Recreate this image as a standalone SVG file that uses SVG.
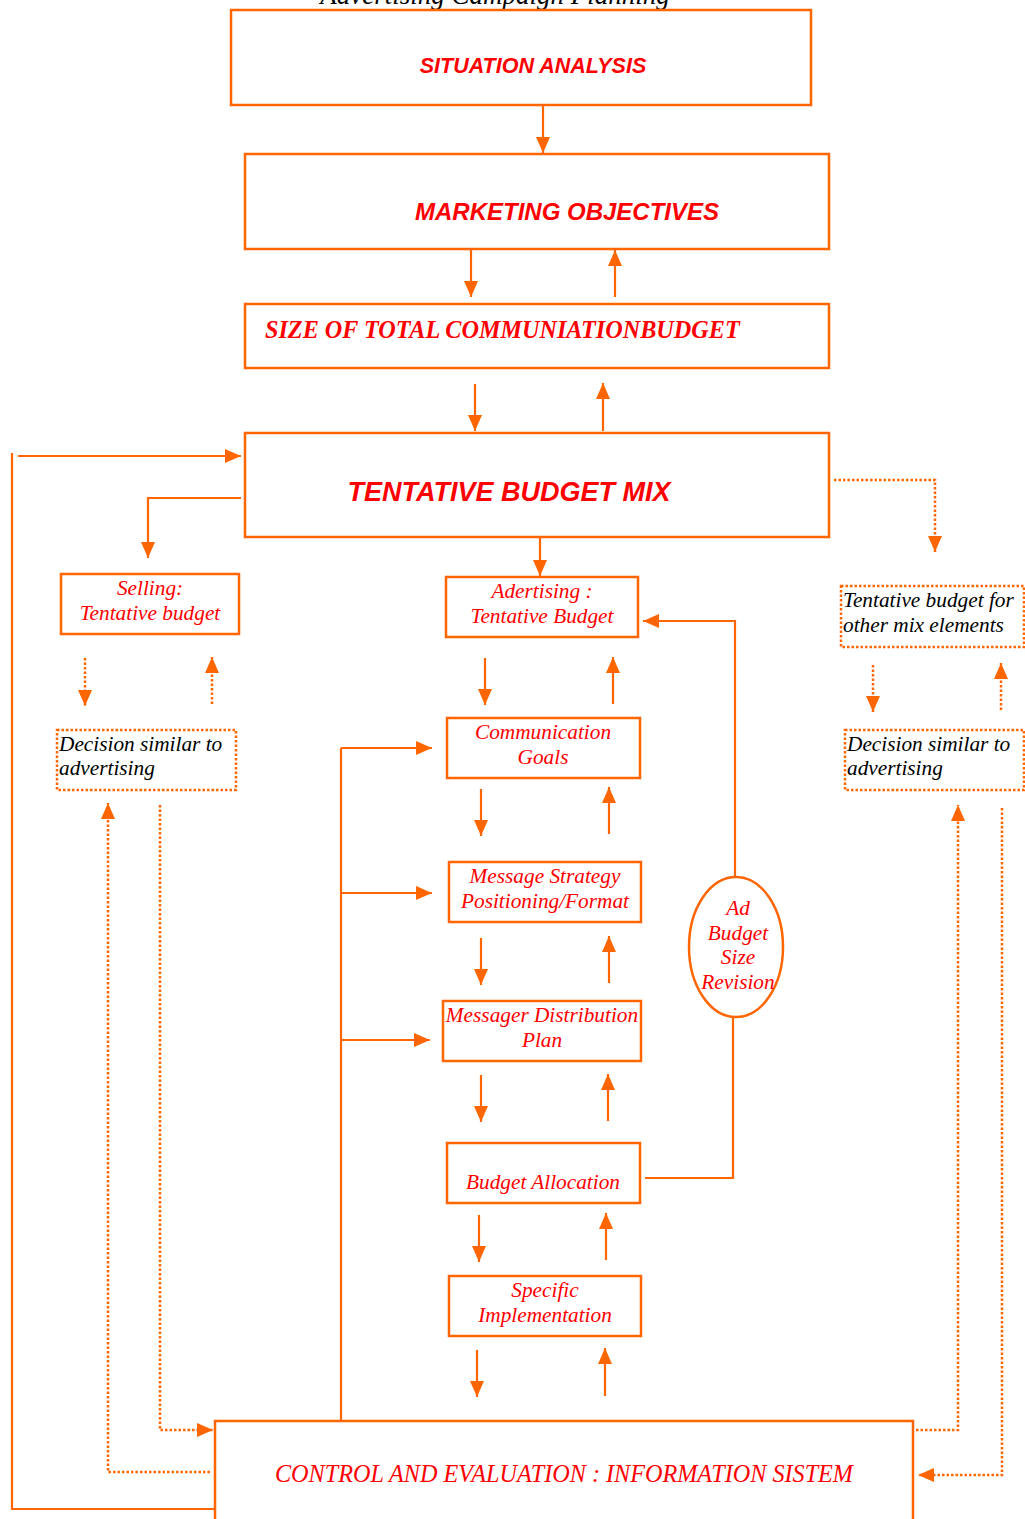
<svg xmlns="http://www.w3.org/2000/svg" width="1025" height="1519" viewBox="0 0 1025 1519">
<style>
.box{fill:#fff;stroke:#FF6600;stroke-width:2.5}
.dbox{fill:#fff;stroke:#FF6600;stroke-width:2.5;stroke-dasharray:2.5 2}
.ln{fill:none;stroke:#FF6600;stroke-width:2.2}
.dl{fill:none;stroke:#FF6600;stroke-width:2.5;stroke-dasharray:2.5 2}
.sans{font-family:"Liberation Sans",Arial,sans-serif;font-weight:bold;font-style:italic;fill:#FF0000}
.ser{font-family:"Liberation Serif","Times New Roman",serif;font-style:italic;fill:#FF0000;font-size:21.3px}
.blk{font-family:"Liberation Serif","Times New Roman",serif;font-style:italic;fill:#000;font-size:21.3px}
</style>
<defs>
<marker id="ah" markerUnits="userSpaceOnUse" markerWidth="17" markerHeight="15" refX="16" refY="7" orient="auto">
<path d="M0,0 L16,7 L0,14 z" fill="#FF6600" stroke="none"/>
</marker>
</defs>
<rect width="1025" height="1519" fill="#fff"/>
<text x="495" y="4" text-anchor="middle" font-family="Liberation Serif, Times New Roman, serif" font-style="italic" font-size="27" fill="#000">Advertising Campaign Planning</text>

<g id="connectors">
<line class="ln" x1="543" y1="105" x2="543" y2="153" marker-end="url(#ah)"/>
<line class="ln" x1="471" y1="250" x2="471" y2="297" marker-end="url(#ah)"/>
<line class="ln" x1="615" y1="297" x2="615" y2="250" marker-end="url(#ah)"/>
<line class="ln" x1="475" y1="384" x2="475" y2="431" marker-end="url(#ah)"/>
<line class="ln" x1="603" y1="431" x2="603" y2="383" marker-end="url(#ah)"/>
<polyline class="ln" points="12,453 12,1509 215,1509"/>
<line class="ln" x1="18" y1="456" x2="241" y2="456" marker-end="url(#ah)"/>
<polyline class="ln" points="241,498 148,498 148,558" marker-end="url(#ah)"/>
<line class="ln" x1="540" y1="537" x2="540" y2="576" marker-end="url(#ah)"/>
<polyline class="dl" points="834,480 935,480 935,552" marker-end="url(#ah)"/>
<line class="dl" x1="85" y1="658" x2="85" y2="706" marker-end="url(#ah)"/>
<line class="dl" x1="212" y1="704" x2="212" y2="657" marker-end="url(#ah)"/>
<line class="dl" x1="873" y1="665" x2="873" y2="712" marker-end="url(#ah)"/>
<line class="dl" x1="1001" y1="710" x2="1001" y2="663" marker-end="url(#ah)"/>
<polyline class="dl" points="210,1472 108,1472 108,803" marker-end="url(#ah)"/>
<polyline class="dl" points="160,805 160,1430 213,1430" marker-end="url(#ah)"/>
<polyline class="dl" points="916,1430 958,1430 958,805" marker-end="url(#ah)"/>
<polyline class="dl" points="1002,808 1002,1475 918,1475" marker-end="url(#ah)"/>
<line class="ln" x1="341" y1="748" x2="341" y2="1421"/>
<line class="ln" x1="341" y1="748" x2="432" y2="748" marker-end="url(#ah)"/>
<line class="ln" x1="341" y1="893" x2="432" y2="893" marker-end="url(#ah)"/>
<line class="ln" x1="341" y1="1040" x2="430" y2="1040" marker-end="url(#ah)"/>
<line class="ln" x1="485" y1="658" x2="485" y2="705" marker-end="url(#ah)"/>
<line class="ln" x1="613" y1="704" x2="613" y2="657" marker-end="url(#ah)"/>
<line class="ln" x1="481" y1="789" x2="481" y2="836" marker-end="url(#ah)"/>
<line class="ln" x1="609" y1="834" x2="609" y2="787" marker-end="url(#ah)"/>
<line class="ln" x1="481" y1="938" x2="481" y2="985" marker-end="url(#ah)"/>
<line class="ln" x1="609" y1="983" x2="609" y2="936" marker-end="url(#ah)"/>
<line class="ln" x1="481" y1="1075" x2="481" y2="1122" marker-end="url(#ah)"/>
<line class="ln" x1="608" y1="1121" x2="608" y2="1074" marker-end="url(#ah)"/>
<line class="ln" x1="479" y1="1215" x2="479" y2="1262" marker-end="url(#ah)"/>
<line class="ln" x1="606" y1="1260" x2="606" y2="1213" marker-end="url(#ah)"/>
<line class="ln" x1="477" y1="1350" x2="477" y2="1397" marker-end="url(#ah)"/>
<line class="ln" x1="605" y1="1396" x2="605" y2="1348" marker-end="url(#ah)"/>
<polyline class="ln" points="645,1178 733,1178 733,1017"/>
<polyline class="ln" points="735,877 735,621 643,621" marker-end="url(#ah)"/>
</g>

<g id="situation"><rect class="box" x="231" y="10" width="580" height="95"/>
<text class="sans" x="533" y="73" font-size="21.5" text-anchor="middle">SITUATION ANALYSIS</text></g>
<g id="marketing"><rect class="box" x="245" y="154" width="584" height="95"/>
<text class="sans" x="567" y="220" font-size="24" text-anchor="middle">MARKETING OBJECTIVES</text></g>
<g id="size"><rect class="box" x="245" y="304" width="584" height="64"/>
<text x="265" y="338" font-family="Liberation Serif, Times New Roman, serif" font-weight="bold" font-style="italic" font-size="24.2" fill="#FF0000">SIZE OF TOTAL COMMUNIATIONBUDGET</text></g>
<g id="mix"><rect class="box" x="245" y="433" width="584" height="104"/>
<text class="sans" x="509" y="501" font-size="27" text-anchor="middle">TENTATIVE BUDGET MIX</text></g>
<g id="selling"><rect class="box" x="61" y="574" width="178" height="60"/>
<text class="ser" x="150" y="595" text-anchor="middle">Selling:</text>
<text class="ser" x="150" y="620" text-anchor="middle">Tentative budget</text></g>
<g id="advertising"><rect class="box" x="446" y="577" width="192" height="60"/>
<text class="ser" x="542" y="598" text-anchor="middle">Adertising :</text>
<text class="ser" x="542" y="623" text-anchor="middle">Tentative Budget</text></g>
<g id="other"><rect class="dbox" x="841" y="586" width="183" height="61"/>
<text class="blk" x="843" y="607">Tentative budget for</text>
<text class="blk" x="843" y="632">other mix elements</text></g>
<g id="decision-left"><rect class="dbox" x="57" y="730" width="179" height="60"/>
<text class="blk" x="59" y="751">Decision similar to</text>
<text class="blk" x="59" y="775">advertising</text></g>
<g id="decision-right"><rect class="dbox" x="845" y="730" width="179" height="60"/>
<text class="blk" x="847" y="751">Decision similar to</text>
<text class="blk" x="847" y="775">advertising</text></g>
<g id="comm"><rect class="box" x="447" y="718" width="193" height="60"/>
<text class="ser" x="543" y="739" text-anchor="middle">Communication</text>
<text class="ser" x="543" y="764" text-anchor="middle">Goals</text></g>
<g id="message"><rect class="box" x="449" y="862" width="192" height="60"/>
<text class="ser" x="545" y="883" text-anchor="middle">Message Strategy</text>
<text class="ser" x="545" y="908" text-anchor="middle">Positioning/Format</text></g>
<g id="distribution"><rect class="box" x="443" y="1001" width="198" height="60"/>
<text class="ser" x="542" y="1022" text-anchor="middle">Messager Distribution</text>
<text class="ser" x="542" y="1047" text-anchor="middle">Plan</text></g>
<g id="allocation"><rect class="box" x="447" y="1143" width="193" height="60"/>
<text class="ser" x="543" y="1189" text-anchor="middle">Budget Allocation</text></g>
<g id="implementation"><rect class="box" x="449" y="1276" width="192" height="60"/>
<text class="ser" x="545" y="1297" text-anchor="middle">Specific</text>
<text class="ser" x="545" y="1322" text-anchor="middle">Implementation</text></g>
<g id="revision"><ellipse class="box" cx="736" cy="947" rx="47" ry="70"/>
<text class="ser" x="738" y="915" text-anchor="middle">Ad</text>
<text class="ser" x="738" y="940" text-anchor="middle">Budget</text>
<text class="ser" x="738" y="964" text-anchor="middle">Size</text>
<text class="ser" x="738" y="989" text-anchor="middle">Revision</text></g>
<g id="control"><rect class="box" x="215" y="1421" width="698" height="110"/>
<text x="564" y="1482" text-anchor="middle" font-family="Liberation Serif, Times New Roman, serif" font-style="italic" font-size="24.2" fill="#FF0000">CONTROL AND EVALUATION : INFORMATION SISTEM</text></g>
</svg>
